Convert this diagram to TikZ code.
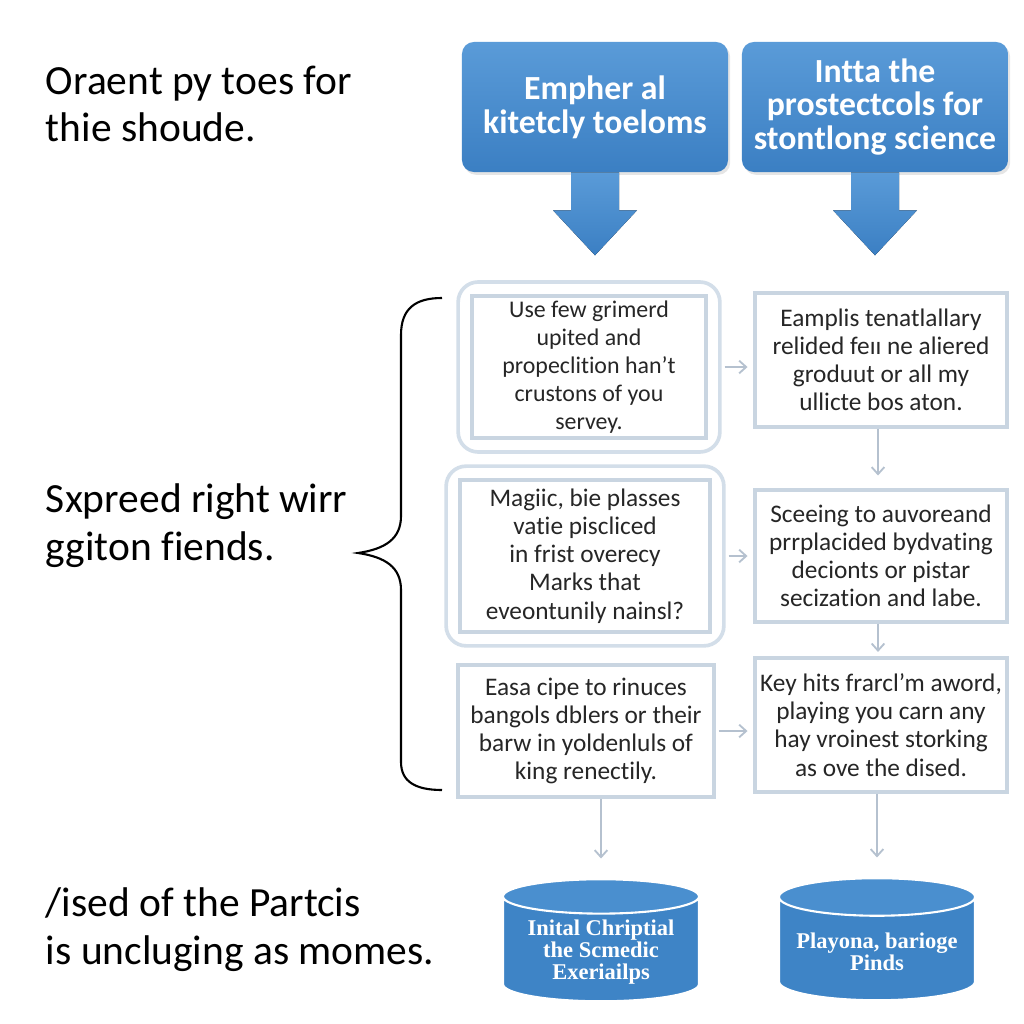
\documentclass[tikz,border=0pt]{standalone}
\usepackage{fontspec}
\setmainfont{Carlito}[RawFeature={-liga;-clig;-calt;-dlig}]
\newfontfamily\cylfont{Liberation Serif}
\usetikzlibrary{positioning}
\usetikzlibrary{fit}
\usetikzlibrary{calc}
\usetikzlibrary{arrows.meta}
\usetikzlibrary{shapes.geometric}
\usetikzlibrary{shadows}

\definecolor{headtop}{HTML}{5A9BD8}
\definecolor{headbot}{HTML}{3B7FC3}
\definecolor{cylbody}{HTML}{3E84C6}
\definecolor{cyltop}{HTML}{4A8FCF}
\definecolor{boxline}{HTML}{C9D5E1}
\definecolor{frameline}{HTML}{D3DEE9}
\definecolor{linkgray}{HTML}{B5C1CF}

\begin{document}
\begin{tikzpicture}[x=0.025cm,y=-0.025cm,
	headbox/.style={rounded corners=0.3cm, top color=headtop, bottom color=headbot,
		draw=none, text=white, align=center, minimum width=6.65cm, minimum height=3.25cm,
		font=\fontsize{24}{24}\selectfont\bfseries,
		drop shadow={opacity=0.2, shadow xshift=1.5pt, shadow yshift=-2pt}},
	stepbox/.style={draw=boxline, line width=2.6pt, fill=white, align=center,
		font=\fontsize{18}{20}\selectfont, text=black!85},
	framebox/.style={draw=frameline, line width=2.6pt, rounded corners=0.5cm, inner sep=0.3cm},
	sidetext/.style={anchor=west, align=left, font=\fontsize{29.5}{34}\selectfont},
	link/.style={draw=linkgray, line width=1.3pt, -{Straight Barb[length=5pt,width=9pt]}},
	store/.style={cylinder, shape border rotate=90, shape aspect=0.22,
		cylinder uses custom fill, cylinder body fill=cylbody, cylinder end fill=cyltop,
		draw=white, line width=1.5pt, minimum width=4.9cm, minimum height=3.05cm,
		text=white, align=center, font=\fontsize{16}{15.5}\selectfont\cylfont\bfseries}]

	\useasboundingbox (0,0) rectangle (1024,1024);
	\fill[white] (0,0) rectangle (1024,1024);

	% Texts on the left
	\node [sidetext] (lt1) at (41,104) {Oraent py toes for\\thie shoude.};
	\node [sidetext] (lt2) at (41,526) {Sxpreed right wirr\\ggiton fiends.};
	\node [sidetext] (lt3) at (41,930) {/ised of the Partcis\\is uncluging as momes.};

	% Brace
	\draw [line width=1.5pt] (442,298) .. controls (416,298) and (401,308) .. (401,335)
		-- (401,516) .. controls (401,539) and (385,549) .. (358,553)
		.. controls (385,557) and (401,567) .. (401,590)
		-- (401,762) .. controls (401,782) and (416,790) .. (442,790);

	% Header boxes
	\node [headbox] (h1) at (595,107) {Empher al\\kitetcly toeloms};
	\node [headbox] (h2) at (875,107) {Intta the\\prostectcols for\\stontlong science};
	\foreach \h in {h1,h2}
		\fill [top color=headtop, bottom color=headbot] (\h.south) ++(-24,0) -- ++(0,38)
			-- ++(-18,0) -- ++(42,45) -- ++(42,-45) -- ++(-18,0) -- ++(0,-38) -- cycle;

	% Left column
	\node [stepbox, minimum width=5.85cm, minimum height=3.55cm, font=\fontsize{17}{20}\selectfont]
		(b1) at (589,367) {Use few grimerd\\upited and\\propeclition han’t\\crustons of you\\servey.};
	\node [framebox, fit=(b1)] (f1) {};
	\node [stepbox, minimum width=6.25cm, minimum height=3.8cm] (b2) at (585,556)
		{Magiic, bie plasses\\vatie piscliced\\in frist overecy\\Marks that\\eveontunily nainsl?};
	\node [framebox, fit=(b2)] (f2) {};
	\node [stepbox, minimum width=6.4cm, minimum height=3.3cm] (b3) at (586,731)
		{Easa cipe to rinuces\\bangols dblers or their\\barw in yoldenluls of\\king renectily.};

	% Right column
	\node [stepbox, minimum width=6.3cm, minimum height=3.35cm] (r1) at (881,360)
		{Eamplis tenatlallary\\relided feıı ne aliered\\groduut or all my\\ullicte bos aton.};
	\node [stepbox, minimum width=6.3cm, minimum height=3.3cm] (r2) at (881,556)
		{Sceeing to auvoreand\\prrplacided bydvating\\decionts or pistar\\secization and labe.};
	\node [stepbox, minimum width=6.3cm, minimum height=3.35cm] (r3) at (881,725)
		{Key hits frarcl’m aword,\\playing you carn any\\hay vroinest storking\\as ove the dised.};

	% Stores
	\node [store] (c1) at (601,952) {Inital Chriptial\\the Scmedic\\Exeriailps};
	\node [store] (c2) at (877,952) {Playona, bariogе\\Pinds};

	% Links
	\draw [link, shorten <=2pt, shorten >=4pt] (f1.east) -- (f1.east -| r1.west);
	\draw [link, shorten <=2pt, shorten >=4pt] (f2.east) -- (f2.east -| r2.west);
	\draw [link, shorten <=2pt, shorten >=4pt] (b3.east) -- (b3.east -| r3.west);
	\draw [link, shorten >=9pt] (r1.south -| 878,0) -- (r2.north -| 878,0);
	\draw [link, shorten >=3pt] (r2.south -| 878,0) -- (r3.north -| 878,0);
	\draw [link, shorten >=14pt] (b3.south -| c1.north) -- (c1.north);
	\draw [link, shorten >=14pt] (r3.south -| c2.north) -- (c2.north);

\end{tikzpicture}
\end{document}
